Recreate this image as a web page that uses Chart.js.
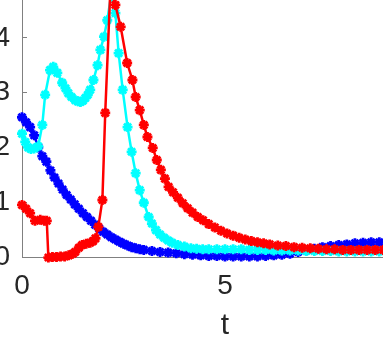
<!DOCTYPE html>
<html>
<head>
<meta charset="utf-8">
<script src="https://cdn.jsdelivr.net/npm/chart.js@4"></script>
<style>
    body { margin: 0; overflow: hidden; background: #fff; }
    #wrap { position: relative; width: 383px; height: 346px; overflow: hidden; }
    #plot { position: absolute; left: 0; top: -17px; }
</style>
</head>
<body>
<div id="wrap">
    <canvas id="plot" width="428" height="363"></canvas>
</div>
<script>
// tick labels
const xTicks = [0, 5];
const yTicks = [0, 1, 2, 3, 4];

// blue series
const blueT = [0, 0.1, 0.2, 0.3, 0.4, 0.5, 0.6, 0.7, 0.8, 0.9, 1.0, 1.1, 1.2, 1.3, 1.4, 1.5, 1.6, 1.7, 1.8, 1.9,
    2.0, 2.1, 2.2, 2.3, 2.4, 2.5, 2.6, 2.7, 2.8, 2.9, 3.0, 3.2, 3.4, 3.6, 3.8, 4.0, 4.2, 4.4, 4.6, 4.8,
    5.0, 5.2, 5.4, 5.6, 5.8, 6.0, 6.2, 6.4, 6.6, 6.8, 7.0, 7.2, 7.4, 7.6, 7.8, 8.0, 8.2, 8.4, 8.6, 8.8, 9.0];
const blueY = [2.55, 2.46, 2.37, 2.22, 2.00, 1.84, 1.74, 1.58, 1.45, 1.34, 1.23, 1.13, 1.05, 0.96, 0.88, 0.80, 0.73, 0.66, 0.59, 0.52,
    0.46, 0.41, 0.36, 0.32, 0.28, 0.24, 0.21, 0.18, 0.16, 0.14, 0.13, 0.11, 0.09, 0.08, 0.07, 0.05, 0.04, 0.03, 0.02, 0.02,
    0.01, 0.01, 0.01, 0.01, 0.01, 0.02, 0.03, 0.04, 0.06, 0.09, 0.12, 0.15, 0.18, 0.20, 0.22, 0.23, 0.25, 0.26, 0.27, 0.27, 0.28];

// cyan series
const cyanT = [0, 0.08, 0.15, 0.22, 0.3, 0.4, 0.5, 0.57, 0.69, 0.77, 0.87, 0.99, 1.07, 1.14, 1.22, 1.31, 1.38, 1.44, 1.5, 1.56,
    1.62, 1.68, 1.76, 1.86, 1.93, 2.02, 2.1, 2.2, 2.3, 2.38, 2.48, 2.6, 2.7, 2.8, 2.9, 3.0, 3.12, 3.2, 3.3, 3.4,
    3.5, 3.6, 3.7, 3.84, 4.0, 4.16, 4.3, 4.45, 4.6, 4.8, 5.0, 5.2, 5.4, 5.6, 5.8, 6.0, 6.2, 6.4, 6.6, 6.8,
    7.0, 7.2, 7.4, 7.6, 7.8, 8.0, 8.2, 8.4, 8.6, 8.8, 9.0];
const cyanY = [2.25, 2.10, 2.00, 1.97, 1.98, 2.02, 2.41, 2.96, 3.41, 3.47, 3.36, 3.18, 3.08, 2.99, 2.92, 2.86, 2.84, 2.83, 2.85, 2.90,
    2.96, 3.05, 3.23, 3.50, 3.78, 4.02, 4.32, 4.80, 4.45, 3.72, 3.05, 2.37, 1.92, 1.53, 1.22, 0.99, 0.73, 0.61, 0.49, 0.41,
    0.35, 0.30, 0.26, 0.22, 0.19, 0.16, 0.15, 0.14, 0.14, 0.14, 0.14, 0.14, 0.14, 0.13, 0.13, 0.13, 0.12, 0.12, 0.12, 0.12,
    0.11, 0.11, 0.11, 0.11, 0.10, 0.10, 0.10, 0.10, 0.10, 0.10, 0.09];

// red series
const redT = [0, 0.1, 0.2, 0.32, 0.45, 0.55, 0.61, 0.65, 0.75, 0.85, 0.95, 1.05, 1.15, 1.25, 1.31, 1.4, 1.48, 1.58, 1.68, 1.75,
    1.81, 1.88, 1.98, 2.05, 2.18, 2.3, 2.43, 2.59, 2.72, 2.8, 2.9, 3.0, 3.09, 3.22, 3.32, 3.42, 3.52, 3.61, 3.72, 3.84,
    3.96, 4.08, 4.2, 4.33, 4.46, 4.6, 4.75, 4.9, 5.05, 5.2, 5.35, 5.5, 5.65, 5.8, 5.95, 6.1, 6.3, 6.5, 6.7, 6.9,
    7.1, 7.3, 7.5, 7.7, 7.9, 8.1, 8.3, 8.5, 8.7, 8.9, 9.0];
const redY = [0.95, 0.88, 0.80, 0.66, 0.68, 0.66, 0.66, -0.01, 0.0, 0.0, 0.01, 0.01, 0.03, 0.06, 0.09, 0.17, 0.22, 0.24, 0.26, 0.29,
    0.34, 0.55, 1.04, 2.63, 4.95, 4.60, 4.20, 3.54, 3.23, 2.92, 2.68, 2.41, 2.19, 1.99, 1.77, 1.59, 1.43, 1.28, 1.18, 1.08,
    0.98, 0.89, 0.81, 0.73, 0.67, 0.60, 0.54, 0.48, 0.43, 0.39, 0.35, 0.32, 0.29, 0.27, 0.25, 0.23, 0.21, 0.20, 0.18, 0.17,
    0.16, 0.15, 0.14, 0.14, 0.13, 0.13, 0.13, 0.13, 0.13, 0.13, 0.13];

const FONT = '"Liberation Sans", Arial, Helvetica, sans-serif';
const TEXT = '#262626';
const AXIS = '#808080';

function series(ts, ys, color, order) {
    return {
        data: ts.map((t, i) => ({ x: t, y: ys[i] })),
        borderColor: color,
        backgroundColor: color,
        pointBorderColor: color,
        pointBackgroundColor: color,
        borderWidth: 2.5,
        pointStyle: 'star',
        pointRadius: 5,
        pointBorderWidth: 2.8,
        tension: 0,
        clip: false,
        order: order
    };
}

// no extra padding from tick labels, the axes sit exactly where they should
function noPad(s) {
    s.paddingTop = 0;
    s.paddingBottom = 0;
    s.paddingLeft = 0;
    s.paddingRight = 0;
}

const ctx = document.getElementById('plot').getContext('2d');
new Chart(ctx, {
    type: 'line',
    data: {
        datasets: [
            series(redT, redY, '#ff0000', 1),
            series(cyanT, cyanY, '#00ffff', 2),
            series(blueT, blueY, '#0000ff', 3)
        ]
    },
    options: {
        responsive: false,
        animation: false,
        devicePixelRatio: 1,
        layout: { padding: 0, autoPadding: false },
        plugins: { legend: { display: false }, tooltip: { enabled: false } },
        scales: {
            x: {
                type: 'linear',
                min: 0,
                max: 10,
                afterBuildTicks: s => { s.ticks = xTicks.map(v => ({ value: v })); },
                afterFit: s => { s.height = 89; noPad(s); },
                grid: { drawOnChartArea: false, tickLength: -5, color: AXIS },
                border: { color: AXIS },
                ticks: { padding: 17, maxRotation: 0, autoSkip: false, color: TEXT, font: { family: FONT, size: 28 } },
                title: { display: true, text: 't', color: TEXT, font: { family: FONT, size: 30 }, padding: { top: 0, bottom: 2 } }
            },
            y: {
                type: 'linear',
                min: 0,
                max: 5,
                afterBuildTicks: s => { s.ticks = yTicks.map(v => ({ value: v })); },
                afterFit: s => { s.width = 22; noPad(s); },
                grid: { drawOnChartArea: false, tickLength: -5, color: AXIS },
                border: { color: AXIS },
                ticks: { padding: 17, color: TEXT, font: { family: FONT, size: 28 } }
            }
        }
    }
});
</script>
</body>
</html>
